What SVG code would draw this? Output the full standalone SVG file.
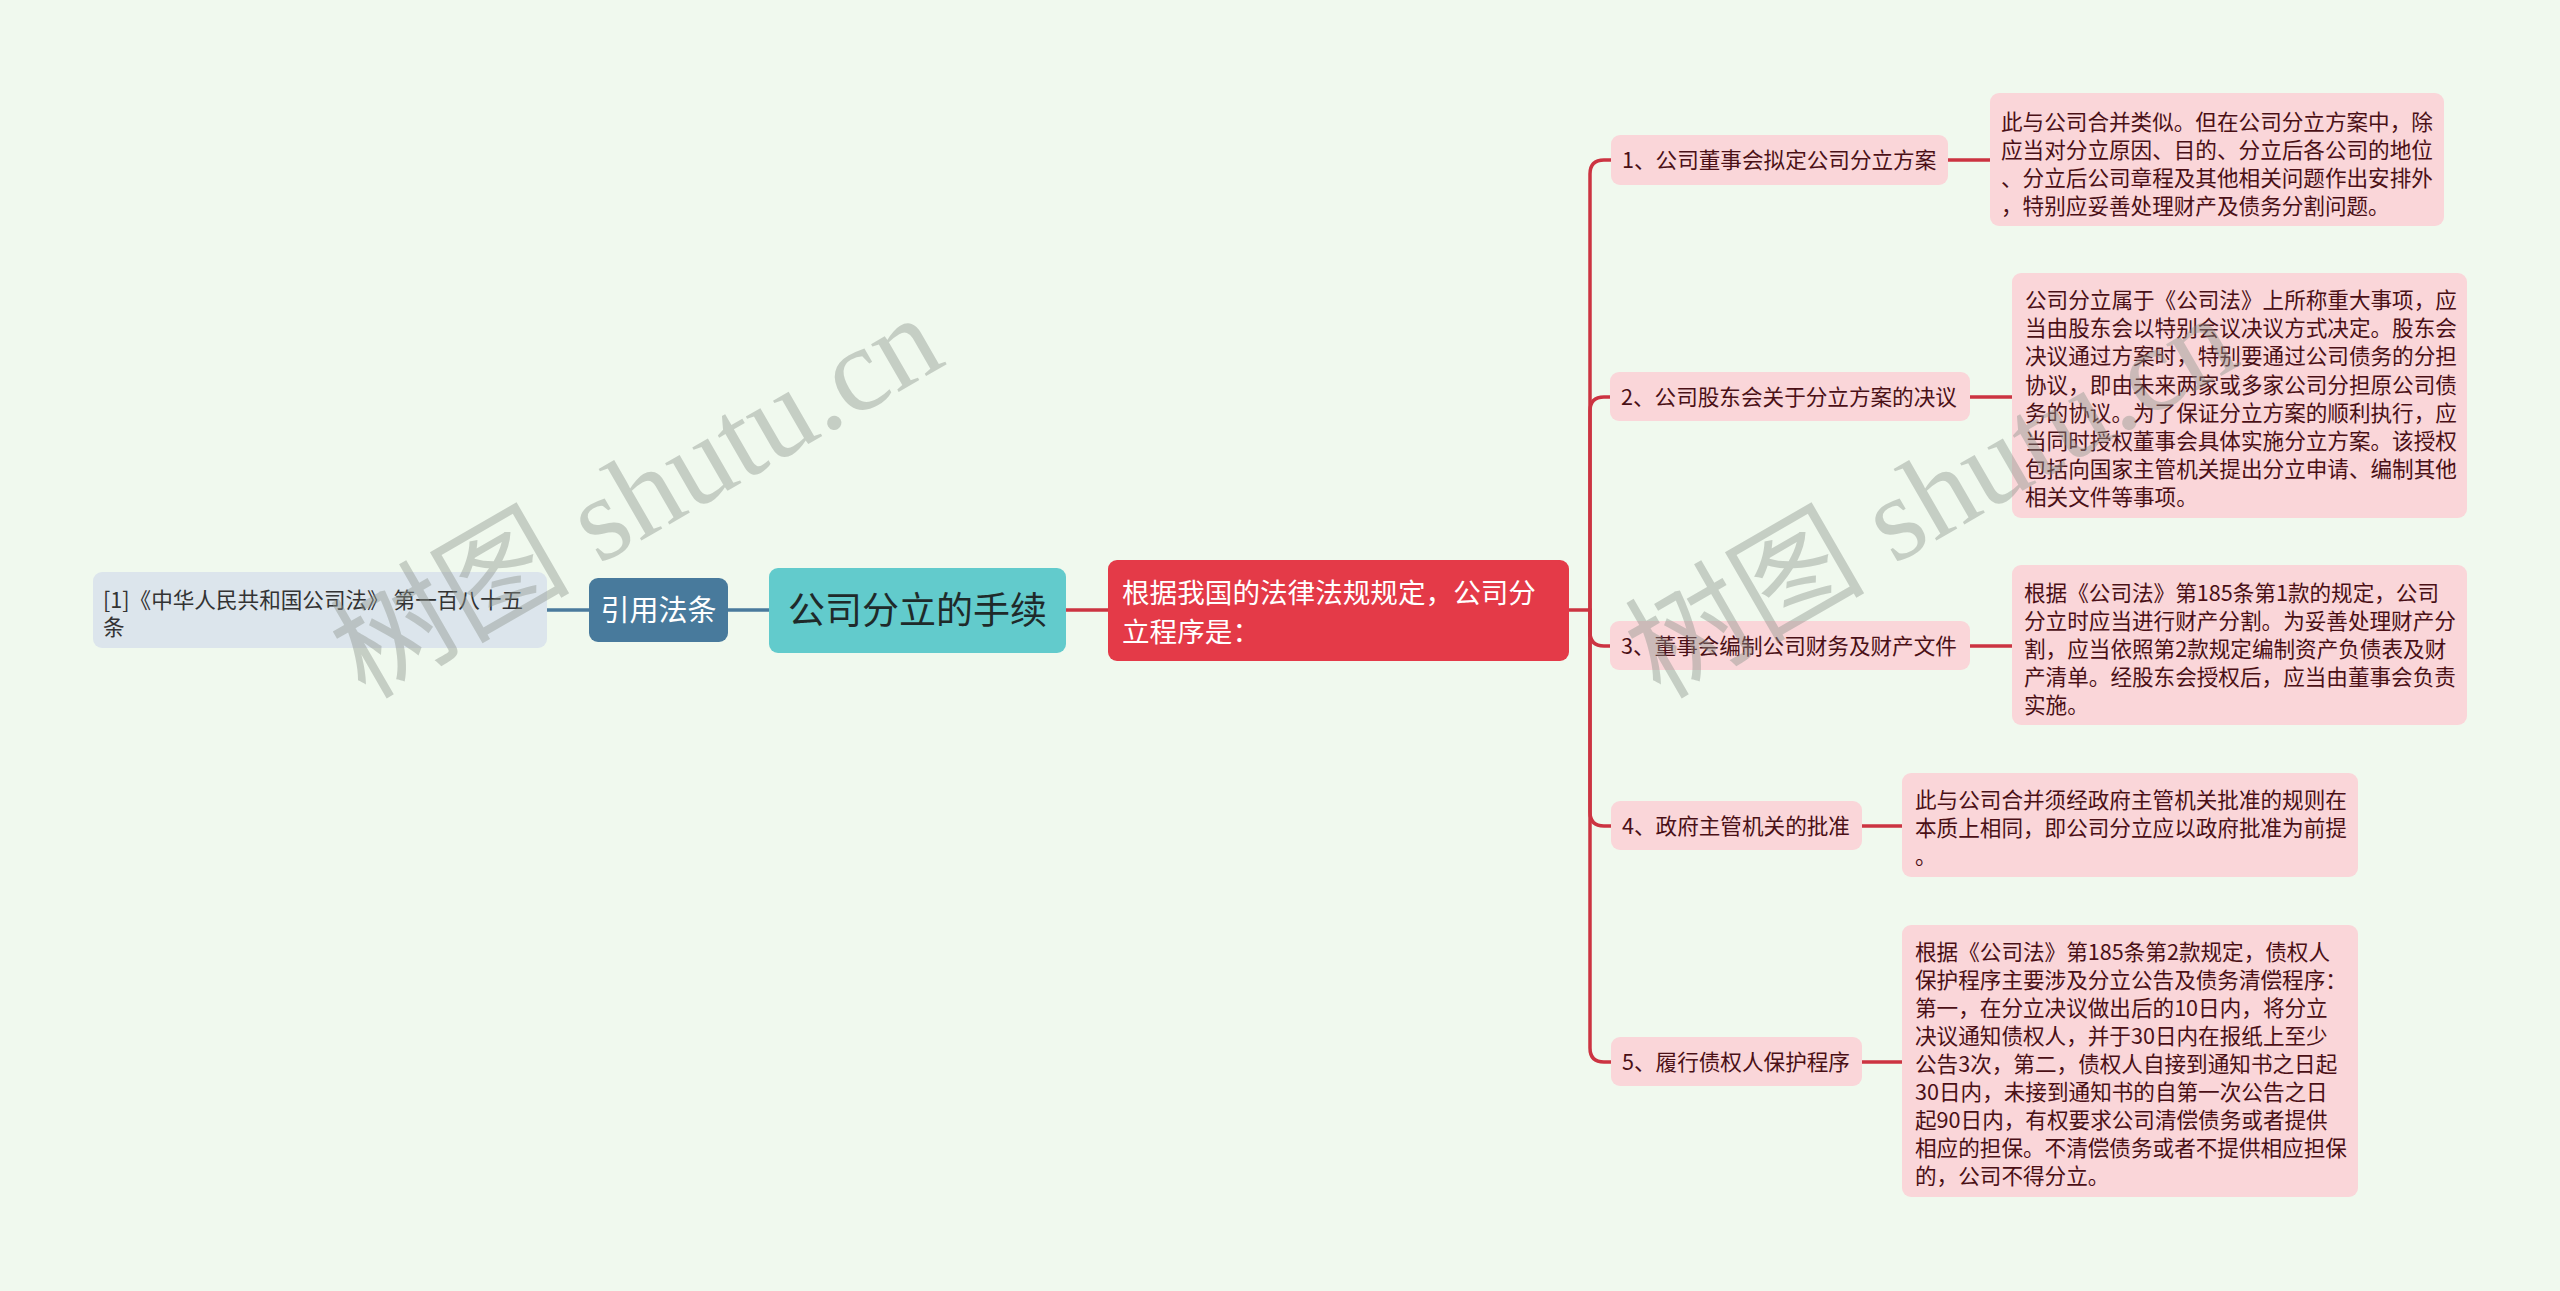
<svg xmlns="http://www.w3.org/2000/svg" width="2560" height="1291" viewBox="0 0 2560 1291">
<defs>
<style>
.t{font-family:"Noto Sans CJK SC","Noto Sans",sans-serif;}
.pk{fill:#fad6d9;}
.pt{font-size:21.6px;fill:#4a1016;}
.rl{fill:none;stroke:#cc3442;stroke-width:3.5;stroke-linecap:round;}
.bl{fill:none;stroke:#4a7a9c;stroke-width:3.5;}
.wm{font-family:"Liberation Serif","Noto Sans CJK SC",serif;font-size:120px;fill:#8c948c;opacity:0.42;}
</style>
</defs>
<rect x="0" y="0" width="2560" height="1291" fill="#f0f9ee"/>
<g id="connectors">
<path class="bl" d="M547,610 H589"/>
<path class="bl" d="M728,610 H769"/>
<path class="rl" d="M1066,610 H1109"/>
<path class="rl" d="M1569,610 H1590"/>
<path class="rl" d="M1590,610 V174 Q1590,160 1604,160 H1611"/>
<path class="rl" d="M1590,610 V411 Q1590,397 1604,397 H1610"/>
<path class="rl" d="M1590,610 V632 Q1590,646 1604,646 H1610"/>
<path class="rl" d="M1590,610 V812 Q1590,826 1604,826 H1611"/>
<path class="rl" d="M1590,610 V1048 Q1590,1062 1604,1062 H1611"/>
<path class="rl" d="M1948,160 H1990"/>
<path class="rl" d="M1970,397 H2012"/>
<path class="rl" d="M1970,646 H2012"/>
<path class="rl" d="M1862,826 H1902"/>
<path class="rl" d="M1862,1062 H1902"/>
</g>
<g id="ref-node">
<rect x="93" y="572" width="454" height="76" rx="9" fill="#dce5ec"/>
<text class="t" font-size="21.6" fill="#333333"><tspan x="103" y="608">[1]《中华人民共和国公司法》 第一百八十五</tspan><tspan x="103" y="635">条</tspan></text>
</g>
<g id="cite-node">
<rect x="589" y="578" width="139" height="64" rx="9" fill="#487a9c"/>
<text class="t" x="658.5" y="621" font-size="29" fill="#ffffff" text-anchor="middle">引用法条</text>
</g>
<g id="root-node">
<rect x="769" y="568" width="297" height="85" rx="9" fill="#62cbcc"/>
<text class="t" x="917.5" y="624" font-size="37" fill="#1f2a2a" text-anchor="middle">公司分立的手续</text>
</g>
<g id="main-node">
<rect x="1108" y="560" width="461" height="101" rx="9" fill="#e43a48"/>
<text class="t" font-size="27.6" fill="#ffffff"><tspan x="1122" y="603">根据我国的法律法规规定，公司分</tspan><tspan x="1122" y="642">立程序是：</tspan></text>
</g>
<g id="step1">
<rect class="pk" x="1611" y="135" width="337" height="50" rx="9"/>
<text class="t pt" x="1622" y="168">1、公司董事会拟定公司分立方案</text>
</g>
<g id="step1-detail">
<rect class="pk" x="1990" y="93" width="454" height="133" rx="9"/>
<text class="t pt"><tspan x="2001" y="130">此与公司合并类似。但在公司分立方案中，除</tspan><tspan x="2001" y="158">应当对分立原因、目的、分立后各公司的地位</tspan><tspan x="2001" y="186">、分立后公司章程及其他相关问题作出安排外</tspan><tspan x="2001" y="214">，特别应妥善处理财产及债务分割问题。</tspan></text>
</g>
<g id="step2">
<rect class="pk" x="1610" y="372" width="360" height="49" rx="9"/>
<text class="t pt" x="1621" y="405">2、公司股东会关于分立方案的决议</text>
</g>
<g id="step2-detail">
<rect class="pk" x="2012" y="273" width="455" height="245" rx="9"/>
<text class="t pt"><tspan x="2025" y="308">公司分立属于《公司法》上所称重大事项，应</tspan><tspan x="2025" y="336">当由股东会以特别会议决议方式决定。股东会</tspan><tspan x="2025" y="364">决议通过方案时，特别要通过公司债务的分担</tspan><tspan x="2025" y="393">协议，即由未来两家或多家公司分担原公司债</tspan><tspan x="2025" y="421">务的协议。为了保证分立方案的顺利执行，应</tspan><tspan x="2025" y="449">当同时授权董事会具体实施分立方案。该授权</tspan><tspan x="2025" y="477">包括向国家主管机关提出分立申请、编制其他</tspan><tspan x="2025" y="505">相关文件等事项。</tspan></text>
</g>
<g id="step3">
<rect class="pk" x="1610" y="621" width="360" height="49" rx="9"/>
<text class="t pt" x="1621" y="654">3、董事会编制公司财务及财产文件</text>
</g>
<g id="step3-detail">
<rect class="pk" x="2012" y="565" width="455" height="160" rx="9"/>
<text class="t pt"><tspan x="2024" y="601">根据《公司法》第185条第1款的规定，公司</tspan><tspan x="2024" y="629">分立时应当进行财产分割。为妥善处理财产分</tspan><tspan x="2024" y="657">割，应当依照第2款规定编制资产负债表及财</tspan><tspan x="2024" y="685">产清单。经股东会授权后，应当由董事会负责</tspan><tspan x="2024" y="713">实施。</tspan></text>
</g>
<g id="step4">
<rect class="pk" x="1611" y="801" width="251" height="49" rx="9"/>
<text class="t pt" x="1622" y="834">4、政府主管机关的批准</text>
</g>
<g id="step4-detail">
<rect class="pk" x="1902" y="773" width="456" height="104" rx="9"/>
<text class="t pt"><tspan x="1915" y="808">此与公司合并须经政府主管机关批准的规则在</tspan><tspan x="1915" y="836">本质上相同，即公司分立应以政府批准为前提</tspan><tspan x="1915" y="864">。</tspan></text>
</g>
<g id="step5">
<rect class="pk" x="1611" y="1037" width="251" height="49" rx="9"/>
<text class="t pt" x="1622" y="1070">5、履行债权人保护程序</text>
</g>
<g id="step5-detail">
<rect class="pk" x="1902" y="925" width="456" height="272" rx="9"/>
<text class="t pt"><tspan x="1915" y="960">根据《公司法》第185条第2款规定，债权人</tspan><tspan x="1915" y="988">保护程序主要涉及分立公告及债务清偿程序：</tspan><tspan x="1915" y="1016">第一，在分立决议做出后的10日内，将分立</tspan><tspan x="1915" y="1044">决议通知债权人，并于30日内在报纸上至少</tspan><tspan x="1915" y="1072">公告3次，第二，债权人自接到通知书之日起</tspan><tspan x="1915" y="1100">30日内，未接到通知书的自第一次公告之日</tspan><tspan x="1915" y="1128">起90日内，有权要求公司清偿债务或者提供</tspan><tspan x="1915" y="1156">相应的担保。不清偿债务或者不提供相应担保</tspan><tspan x="1915" y="1184">的，公司不得分立。</tspan></text>
</g>
<g id="watermarks">
<text class="wm" x="365" y="700" transform="rotate(-30 365 700)">树图 shutu.cn</text>
<text class="wm" x="1660" y="700" transform="rotate(-30 1660 700)">树图 shutu.cn</text>
</g>
</svg>
